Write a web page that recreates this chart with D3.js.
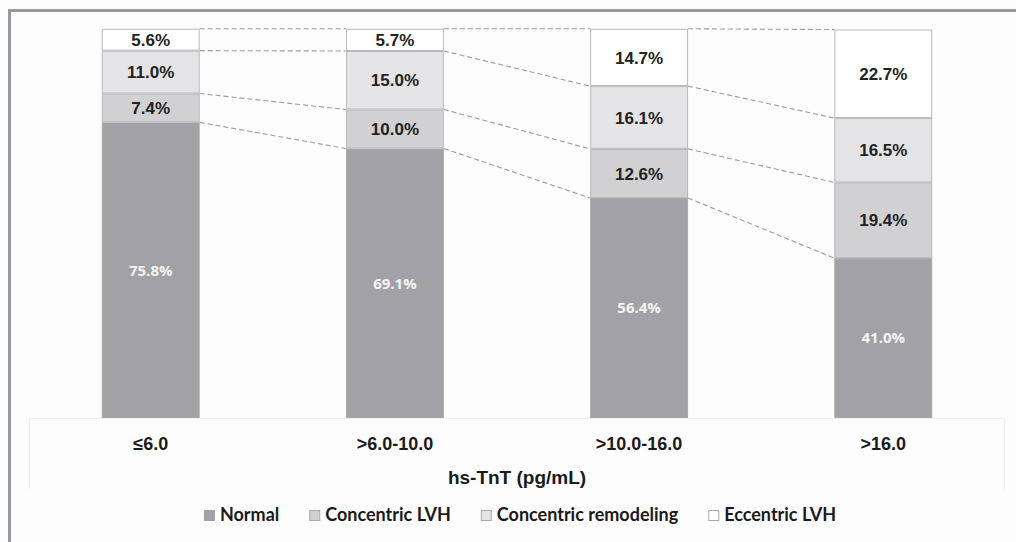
<!DOCTYPE html>
<html><head><meta charset="utf-8">
<script src="https://cdn.jsdelivr.net/npm/d3@7"></script>
<style>
html,body{margin:0;padding:0;background:#fff;}
svg{display:block;}
</style></head>
<body>
<svg id="chart" width="1016" height="542"></svg>
<script>
const categories = ["≤6.0", ">6.0-10.0", ">10.0-16.0", ">16.0"];
const seriesNames = ["Normal", "Concentric LVH", "Concentric remodeling", "Eccentric LVH"];
const normal = [75.8, 69.1, 56.4, 41.0];
const concentricLVH = [7.4, 10.0, 12.6, 19.4];
const concentricRemodeling = [11.0, 15.0, 16.1, 16.5];
const eccentricLVH = [5.6, 5.7, 14.7, 22.7];
const axisTitle = "hs-TnT (pg/mL)";

const seriesValues = [normal, concentricLVH, concentricRemodeling, eccentricLVH];
const fills = ["#a2a2a6", "#d1d1d3", "#e4e4e6", "#ffffff"];
const labelColors = ["#f4f4f4", "#222", "#222", "#222"];

const svg = d3.select("#chart");
const W = 1016, H = 542;

svg.append("rect").attr("x",0).attr("y",0).attr("width",W).attr("height",H).attr("fill","#fdfdfd");
// outer frame
svg.append("rect").attr("x",8).attr("y",9).attr("width",W-8).attr("height",3).attr("fill","#9a9a9e");
svg.append("rect").attr("x",8).attr("y",9).attr("width",3).attr("height",H-9).attr("fill","#9a9a9e");

const x = d3.scaleBand().domain(categories).range([29, 1005]).paddingInner(0.599).paddingOuter(0.298);
const y = d3.scaleLinear().domain([0, 100]).range([418, 28]);

// faint axis box
svg.append("path")
  .attr("d", `M29.5,489 V418.5 H1004.5 V489`)
  .attr("fill","none").attr("stroke","#efefef").attr("stroke-width",1.2);

// stacked data
const rows = categories.map((c,i) => {
  const r = {cat: c};
  seriesNames.forEach((s,j) => r[s] = seriesValues[j][i]);
  return r;
});
const stacked = d3.stack().keys(seriesNames)(rows);

// dashed connectors
const connG = svg.append("g");
stacked.forEach(layer => {
  for (let i = 0; i < categories.length - 1; i++) {
    const a = layer[i], b = layer[i+1];
    connG.append("line")
      .attr("x1", x(categories[i]) + x.bandwidth())
      .attr("y1", y(a[1]))
      .attr("x2", x(categories[i+1]))
      .attr("y2", y(b[1]))
      .attr("stroke", "#9c9c9c")
      .attr("stroke-width", 1.1)
      .attr("stroke-dasharray", "5,3");
  }
});

// bars
stacked.forEach((layer, j) => {
  const g = svg.append("g");
  g.selectAll("rect").data(layer).join("rect")
    .attr("x", d => x(d.data.cat) + 0.5)
    .attr("y", d => y(d[1]) + 0.5)
    .attr("width", x.bandwidth() - 1)
    .attr("height", d => y(d[0]) - y(d[1]) - 1)
    .attr("fill", fills[j])
    .attr("stroke", j === 0 ? "#a9a9ad" : "#b9b9bc")
    .attr("stroke-width", 1);
  g.selectAll("text").data(layer).join("text")
    .attr("x", d => x(d.data.cat) + x.bandwidth()/2)
    .attr("y", d => (y(d[0]) + y(d[1]))/2)
    .attr("dy", "0.36em")
    .attr("text-anchor", "middle")
    .attr("fill", labelColors[j])
    .attr("font-family", j === 0 ? "'Open Sans', sans-serif" : "'Liberation Sans', Arial, sans-serif")
    .attr("font-weight", "bold")
    .attr("font-size", j === 0 ? "15px" : "17px")
    .text(d => (d[1]-d[0]).toFixed(1) + "%");
});

// x axis labels
const xAxis = d3.axisBottom(x).tickSize(0).tickPadding(0);
const ax = svg.append("g").attr("transform", "translate(0,418)").call(xAxis);
ax.select(".domain").remove();
ax.selectAll("text")
  .attr("y", 32).attr("dy", 0)
  .attr("fill", "#1a1a1a")
  .attr("font-family", "'Liberation Sans', Arial, sans-serif")
  .attr("font-weight", "bold")
  .attr("font-size", "18px");

// axis title
svg.append("text")
  .attr("x", 517).attr("y", 484)
  .attr("text-anchor", "middle")
  .attr("fill", "#1a1a1a")
  .attr("font-family", "'Liberation Sans', Arial, sans-serif")
  .attr("font-weight", "bold")
  .attr("font-size", "19px")
  .text(axisTitle);

// legend
const leg = svg.append("g");
const legFont = "Lato, 'Open Sans', sans-serif";
let cx = 0;
seriesNames.forEach((s, j) => {
  const it = leg.append("g");
  it.append("rect").attr("x", 0.5).attr("y", -10.5).attr("width", 10).attr("height", 10)
    .attr("fill", fills[j]).attr("stroke", j === 0 ? "#a2a2a6" : "#aaaaad").attr("stroke-width", 1);
  const t = it.append("text").attr("x", 16).attr("y", 0)
    .attr("fill", "#1a1a1a").attr("font-family", legFont).attr("font-weight", "bold")
    .attr("font-size", "18px").text(s);
  it.attr("transform", `translate(${cx},0)`);
  cx += 16 + t.node().getComputedTextLength() + 30;
});
const legW = cx - 30;
leg.attr("transform", `translate(${520 - legW/2},521)`);
</script>
</body></html>
